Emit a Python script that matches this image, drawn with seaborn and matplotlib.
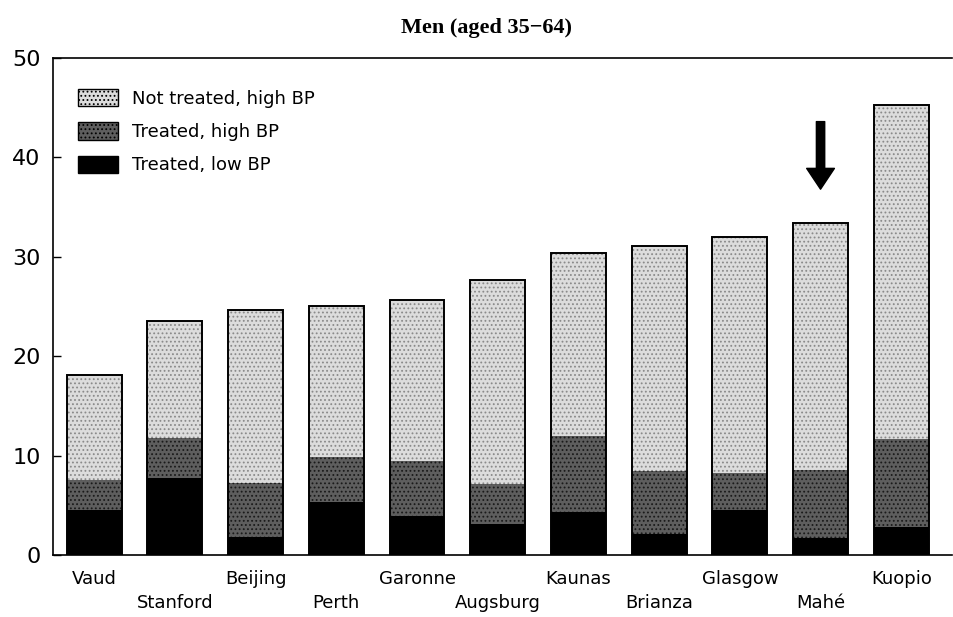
import numpy as np
import pandas as pd
import seaborn as sns
import matplotlib.pyplot as plt
from matplotlib.patches import Patch

# 数据
cities = ["Vaud", "Stanford", "Beijing", "Perth", "Garonne", "Augsburg",
          "Kaunas", "Brianza", "Glasgow", "Mahé", "Kuopio"]
treated_low = [4.5, 7.7, 1.8, 5.3, 3.9, 3.1, 4.3, 2.1, 4.5, 1.7, 2.8]
treated_high = [3.0, 4.1, 5.4, 4.6, 5.6, 4.0, 7.7, 6.4, 3.7, 6.9, 8.9]
not_treated_high = [10.6, 11.7, 17.4, 15.2, 16.2, 20.6, 18.4, 22.6, 23.8, 24.8, 33.6]
legend_labels = ["Not treated, high BP", "Treated, high BP", "Treated, low BP"]

df = pd.DataFrame({"city": cities, "low": treated_low, "high": treated_high,
                   "untreated": not_treated_high})
df["mid_top"] = df["low"] + df["high"]
df["total"] = df["mid_top"] + df["untreated"]

sns.set_style("white")
plt.rcParams['font.family'] = ['DejaVu Sans']
plt.rcParams['hatch.linewidth'] = 0.8
plt.rcParams['text.color'] = 'black'
plt.rcParams['xtick.color'] = 'black'
plt.rcParams['ytick.color'] = 'black'

fig = plt.figure(figsize=(9.54, 6.17), dpi=100)
ax = fig.add_axes([0.0556, 0.1005, 0.9424, 0.8055])

# 堆叠柱状图：从高到低依次绘制
sns.barplot(data=df, x="city", y="total", color="#dcdcdc", hatch="....",
            edgecolor="#8a8a8a", linewidth=0, width=0.68, ax=ax)
sns.barplot(data=df, x="city", y="mid_top", color="#5e5e5e", hatch="....",
            edgecolor="#1a1a1a", linewidth=0, width=0.68, ax=ax)
sns.barplot(data=df, x="city", y="low", color="black", linewidth=0,
            width=0.68, ax=ax)
sns.barplot(data=df, x="city", y="total", fill=False, color="black",
            linewidth=1.4, width=0.68, ax=ax)

ax.set_xlim(-0.51, 10.63)
ax.set_ylim(0, 50)
ax.set_yticks([0, 10, 20, 30, 40, 50])
ax.set_xlabel("")
ax.set_ylabel("")

for s in ["top", "left", "bottom"]:
    ax.spines[s].set_visible(True)
    ax.spines[s].set_color("black")
    ax.spines[s].set_linewidth(1.2)
ax.spines["right"].set_visible(False)

ax.tick_params(axis="y", direction="in", length=6, width=1, labelsize=16, pad=9,
               left=True, labelcolor="black")
ax.tick_params(axis="x", length=0, labelsize=13, labelcolor="black")
# 标签交错两行
ax.set_xticks(range(len(cities)))
ax.set_xticklabels(cities)
for i, t in enumerate(ax.xaxis.get_major_ticks()):
    t.set_pad(11 if i % 2 == 0 else 28)

# 箭头指向 Mahé
ax.annotate("", xy=(9, 36.8), xytext=(9, 43.6),
            arrowprops=dict(facecolor="black", edgecolor="black", width=6,
                            headwidth=20, headlength=15))

handles = [Patch(facecolor="#dcdcdc", edgecolor="black", hatch="...."),
           Patch(facecolor="#5e5e5e", edgecolor="black", hatch="...."),
           Patch(facecolor="black", edgecolor="black")]
leg = ax.legend(handles, legend_labels, loc="upper left", frameon=False, fontsize=13,
                handlelength=2.2, handleheight=1.1, labelspacing=0.8,
                bbox_to_anchor=(0.01, 0.97))
for txt in leg.get_texts():
    txt.set_color("black")

fig.text(0.51, 0.955, "Men (aged 35\u221264)", ha="center", va="center",
         fontsize=16, fontweight="bold", color="black",
         family=["Liberation Serif", "DejaVu Serif"])

plt.savefig("out.png", dpi=100)
